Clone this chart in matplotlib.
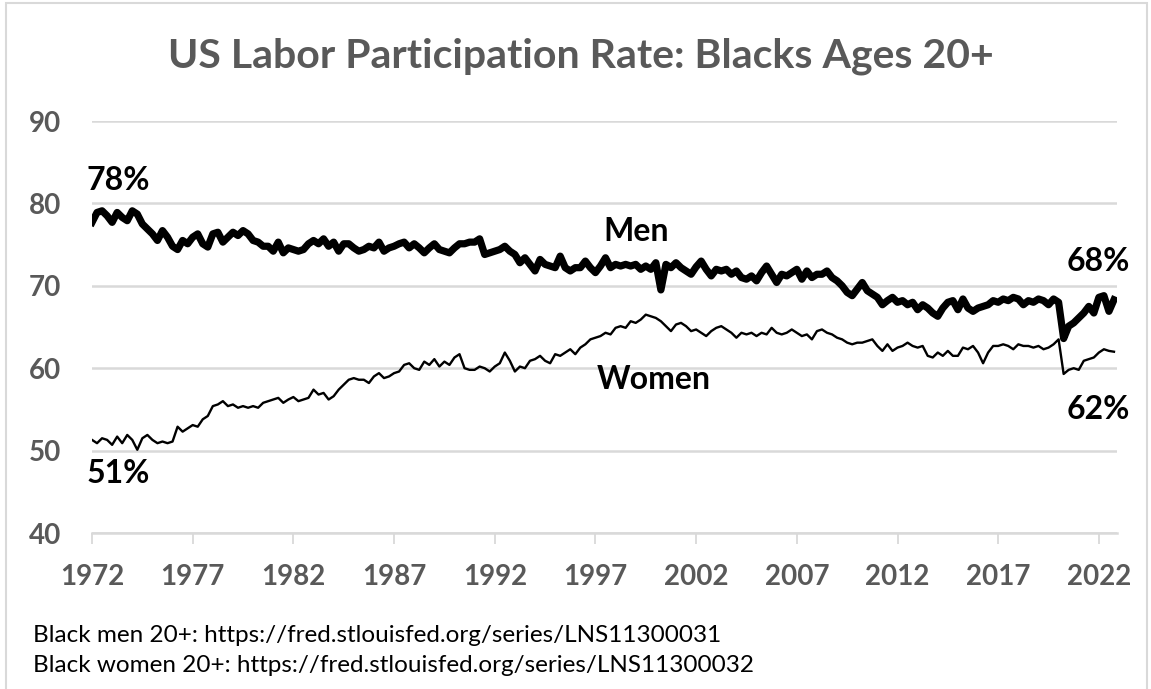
import numpy as np
import matplotlib
matplotlib.use("Agg")
import matplotlib.pyplot as plt
from matplotlib.patches import Rectangle

# ---- data (quarterly readings, 1972Q1 .. 2022Q4) ----
start_year = 1972
quarters_per_year = 4

men = [
    77.7, 78.9, 79.1, 78.5,   # 1972
    77.7, 78.9, 78.3, 77.9,   # 1973
    79.1, 78.7, 77.5, 76.9,   # 1974
    76.3, 75.5, 76.7, 75.9,   # 1975
    74.8, 74.4, 75.5, 75.1,   # 1976
    75.9, 76.3, 75.1, 74.7,   # 1977
    76.3, 76.5, 75.3, 75.9,   # 1978
    76.5, 76.1, 76.7, 76.3,   # 1979
    75.5, 75.3, 74.8, 74.8,   # 1980
    74.2, 75.3, 74.0, 74.6,   # 1981
    74.4, 74.2, 74.4, 75.1,   # 1982
    75.5, 75.1, 75.7, 74.8,   # 1983
    75.3, 74.2, 75.1, 75.1,   # 1984
    74.6, 74.2, 74.4, 74.8,   # 1985
    74.6, 75.3, 74.2, 74.6,   # 1986
    74.8, 75.1, 75.3, 74.6,   # 1987
    75.1, 74.6, 74.0, 74.6,   # 1988
    75.1, 74.4, 74.2, 74.0,   # 1989
    74.6, 75.1, 75.1, 75.3,   # 1990
    75.3, 75.7, 73.8, 74.0,   # 1991
    74.2, 74.4, 74.8, 74.2,   # 1992
    73.8, 72.8, 73.4, 72.6,   # 1993
    71.8, 73.2, 72.6, 72.4,   # 1994
    72.2, 73.6, 72.2, 71.8,   # 1995
    72.2, 72.2, 73.0, 72.2,   # 1996
    71.6, 72.4, 73.4, 72.2,   # 1997
    72.6, 72.4, 72.6, 72.4,   # 1998
    72.6, 72.0, 72.4, 72.0,   # 1999
    72.8, 69.5, 72.6, 72.2,   # 2000
    72.8, 72.2, 71.8, 71.4,   # 2001
    72.3, 73.0, 72.0, 71.2,   # 2002
    72.0, 71.8, 72.0, 71.4,   # 2003
    71.8, 71.0, 70.8, 71.2,   # 2004
    70.6, 71.6, 72.4, 71.4,   # 2005
    70.4, 71.4, 71.2, 71.6,   # 2006
    72.0, 70.8, 71.8, 71.0,   # 2007
    71.4, 71.4, 71.8, 71.0,   # 2008
    70.6, 70.0, 69.2, 68.8,   # 2009
    69.6, 70.4, 69.4, 69.0,   # 2010
    68.6, 67.7, 68.2, 68.6,   # 2011
    68.0, 68.2, 67.7, 68.0,   # 2012
    67.1, 67.7, 67.3, 66.7,   # 2013
    66.3, 67.3, 68.0, 68.2,   # 2014
    67.1, 68.4, 67.3, 66.9,   # 2015
    67.3, 67.5, 67.7, 68.2,   # 2016
    68.0, 68.4, 68.2, 68.6,   # 2017
    68.4, 67.7, 68.2, 68.0,   # 2018
    68.4, 68.2, 67.7, 68.4,   # 2019
    68.0, 63.6, 65.1, 65.5,   # 2020
    66.1, 66.7, 67.5, 66.7,   # 2021
    68.6, 68.8, 66.9, 68.3,   # 2022
]

women = [
    51.3, 50.9, 51.5, 51.3,   # 1972
    50.7, 51.7, 50.9, 51.9,   # 1973
    51.3, 50.1, 51.5, 51.9,   # 1974
    51.3, 50.9, 51.1, 50.9,   # 1975
    51.1, 52.9, 52.3, 52.7,   # 1976
    53.1, 52.9, 53.8, 54.2,   # 1977
    55.4, 55.6, 56.0, 55.4,   # 1978
    55.6, 55.2, 55.4, 55.2,   # 1979
    55.4, 55.2, 55.8, 56.0,   # 1980
    56.2, 56.4, 55.8, 56.2,   # 1981
    56.5, 56.0, 56.2, 56.4,   # 1982
    57.4, 56.8, 57.0, 56.2,   # 1983
    56.6, 57.4, 58.0, 58.6,   # 1984
    58.8, 58.6, 58.6, 58.2,   # 1985
    59.0, 59.4, 58.8, 59.0,   # 1986
    59.4, 59.6, 60.4, 60.6,   # 1987
    60.0, 59.8, 60.8, 60.4,   # 1988
    61.1, 60.2, 60.8, 60.4,   # 1989
    61.3, 61.7, 60.0, 59.8,   # 1990
    59.8, 60.2, 60.0, 59.6,   # 1991
    60.2, 60.6, 61.9, 60.9,   # 1992
    59.6, 60.2, 60.0, 60.9,   # 1993
    61.1, 61.5, 60.9, 60.6,   # 1994
    61.7, 61.5, 61.9, 62.3,   # 1995
    61.7, 62.5, 62.9, 63.5,   # 1996
    63.7, 63.9, 64.3, 64.1,   # 1997
    64.9, 65.1, 64.9, 65.7,   # 1998
    65.5, 65.9, 66.5, 66.3,   # 1999
    66.1, 65.7, 65.1, 64.5,   # 2000
    65.3, 65.5, 65.1, 64.5,   # 2001
    64.7, 64.3, 63.9, 64.5,   # 2002
    64.9, 65.1, 64.7, 64.3,   # 2003
    63.7, 64.3, 64.1, 64.3,   # 2004
    63.9, 64.3, 64.1, 64.9,   # 2005
    64.3, 64.1, 64.3, 64.7,   # 2006
    64.3, 63.9, 64.1, 63.5,   # 2007
    64.5, 64.7, 64.3, 64.1,   # 2008
    63.7, 63.5, 63.1, 62.9,   # 2009
    63.1, 63.1, 63.3, 63.5,   # 2010
    62.7, 62.1, 62.9, 62.1,   # 2011
    62.5, 62.7, 63.1, 62.7,   # 2012
    62.5, 62.7, 61.5, 61.3,   # 2013
    61.9, 61.5, 62.1, 61.5,   # 2014
    61.5, 62.5, 62.3, 62.7,   # 2015
    61.9, 60.6, 61.9, 62.7,   # 2016
    62.7, 62.9, 62.7, 62.3,   # 2017
    62.9, 62.7, 62.7, 62.5,   # 2018
    62.7, 62.3, 62.5, 62.9,   # 2019
    63.5, 59.3, 59.8, 60.0,   # 2020
    59.8, 60.9, 61.1, 61.3,   # 2021
    61.9, 62.3, 62.1, 62.0,   # 2022
]

xtick_years = [1972, 1977, 1982, 1987, 1992, 1997, 2002, 2007, 2012, 2017, 2022]
yticks = [40, 50, 60, 70, 80, 90]

title = "US Labor Participation Rate: Blacks Ages 20+"
label_men = "Men"
label_women = "Women"
label_men_start, label_women_start = "78%", "51%"
label_men_end, label_women_end = "68%", "62%"
footer_lines = [
    "Black men 20+: https://fred.stlouisfed.org/series/LNS11300031",
    "Black women 20+: https://fred.stlouisfed.org/series/LNS11300032",
]

# ---- plotting ----
years = start_year + np.arange(len(men)) / quarters_per_year

plt.rcParams['font.family'] = ['Lato', 'DejaVu Sans']

W, H = 1151, 689
fig = plt.figure(figsize=(W / 100, H / 100), dpi=100)
fig.patch.set_facecolor('white')

ax = fig.add_axes([92 / W, 1 - 533 / H, (1117 - 92) / W, (533 - 121) / H])

grid_col = '#d9d9d9'
text_gray = '#595959'

ax.plot(years, women, color='black', lw=1.7, solid_joinstyle='round', zorder=3)
ax.plot(years, men, color='black', lw=5.2, solid_joinstyle='round', zorder=4)

ax.set_xlim(1972, 2022.9)
ax.set_ylim(40, 90)
ax.set_yticks(yticks)
ax.set_xticks(xtick_years)
ax.set_xticklabels([str(y) for y in xtick_years])

ax.yaxis.grid(True, color=grid_col, lw=1.8, zorder=0)
ax.set_axisbelow(True)
for s in ['left', 'right', 'top']:
    ax.spines[s].set_visible(False)
ax.spines['bottom'].set_color(grid_col)
ax.spines['bottom'].set_linewidth(1.8)

ax.tick_params(axis='y', length=0, pad=22, labelsize=20, labelcolor=text_gray)
ax.tick_params(axis='x', length=8, width=1.3, color=grid_col, pad=14,
               labelsize=20, labelcolor=text_gray)
for lab in ax.get_xticklabels() + ax.get_yticklabels():
    lab.set_fontweight('bold')

fig.text(0.505, 1 - 56 / H, title, ha='center', va='center',
         fontsize=29.5, fontweight='bold', color=text_gray)

ann = dict(fontsize=23, fontweight='bold', color='black', ha='center', va='center')
ax.text(1973.3, 82.8, label_men_start, **ann)
ax.text(1973.3, 47.2, label_women_start, **ann)
ax.text(1999.0, 76.6, label_men, **ann)
ax.text(1999.9, 58.6, label_women, **ann)
ax.text(2021.95, 73.0, label_men_end, clip_on=False, **ann)
ax.text(2021.95, 55.0, label_women_end, clip_on=False, **ann)

fig.text(33 / W, 1 - 636 / H, footer_lines[0], ha='left', va='center',
         fontsize=17.5, color='black')
fig.text(33 / W, 1 - 666 / H, footer_lines[1], ha='left', va='center',
         fontsize=17.5, color='black')

fig.add_artist(Rectangle((6 / W, -0.05), (1147 - 6) / W, 1.05 - 3 / H,
                         transform=fig.transFigure, fill=False,
                         edgecolor=grid_col, lw=1.5))

fig.savefig('out.png', dpi=100, facecolor='white')
